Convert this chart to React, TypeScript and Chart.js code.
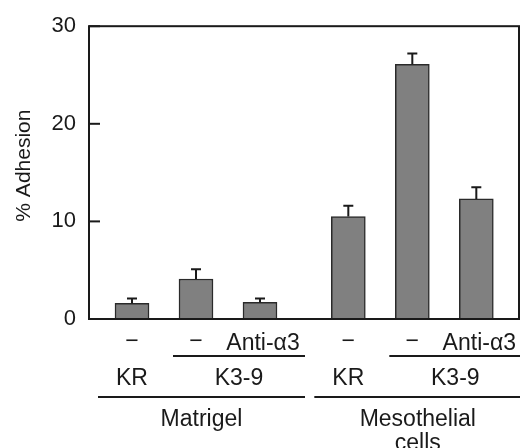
import React, { useEffect, useRef } from 'react';
import { Chart, registerables } from 'chart.js';

Chart.register(...registerables);

// ---- data ----
const conditions = ['−', '−', 'Anti-α3', '−', '−', 'Anti-α3'];
const adhesion = [1.6, 4.1, 1.7, 10.5, 26.1, 12.3];
const adhesionSE = [0.5, 1.0, 0.4, 1.1, 1.1, 1.2];
const barSlots = [1, 2, 3, 4.38, 5.38, 6.38];

const cellLineLabels = ['KR', 'K3-9', 'KR', 'K3-9'];
const cellLineStart = [0, 1, 3, 4];
const cellLineEnd = [0, 2, 3, 5];

const substrateLabels = [['Matrigel'], ['Mesothelial', 'cells']];
const substrateStart = [0, 3];
const substrateEnd = [2, 5];

const yTicks = [0, 10, 20, 30];
const yTitle = '% Adhesion';

const FONT = "'Liberation Sans', Arial, Helvetica, sans-serif";
const INK = '#1a1a1a';

const decorPlugin = {
  id: 'decor',
  afterDatasetsDraw(chart: any) {
    const { ctx, chartArea, scales } = chart;
    const x = scales.x;
    const y = scales.y;
    const meta = chart.getDatasetMeta(0);
    ctx.save();
    ctx.strokeStyle = INK;
    ctx.lineWidth = 2;
    // error bars
    meta.data.forEach((bar: any, i: number) => {
      const top = y.getPixelForValue(adhesion[i]);
      const e = y.getPixelForValue(adhesion[i] + adhesionSE[i]);
      ctx.beginPath();
      ctx.moveTo(bar.x, top);
      ctx.lineTo(bar.x, e);
      ctx.moveTo(bar.x - 5, e);
      ctx.lineTo(bar.x + 5, e);
      ctx.stroke();
    });
    // frame
    ctx.strokeRect(chartArea.left, chartArea.top, chartArea.right - chartArea.left, chartArea.bottom - chartArea.top);
    // inner ticks
    y.ticks.forEach((t: any) => {
      const py = y.getPixelForValue(t.value);
      ctx.beginPath();
      ctx.moveTo(chartArea.left, py);
      ctx.lineTo(chartArea.left + 11, py);
      ctx.stroke();
    });
    ctx.fillStyle = INK;
    ctx.textBaseline = 'alphabetic';
    // y title
    ctx.save();
    ctx.font = `21px ${FONT}`;
    ctx.textAlign = 'center';
    ctx.translate(30, (chartArea.top + chartArea.bottom) / 2 - 7);
    ctx.rotate(-Math.PI / 2);
    ctx.fillText(yTitle, 0, 0);
    ctx.restore();
    // category labels
    ctx.font = `23px ${FONT}`;
    ctx.textAlign = 'center';
    const px = (i: number) => x.getPixelForValue(barSlots[i]);
    conditions.forEach((c, i) => {
      ctx.fillText(c, px(i) + (c.length > 1 ? 3 : 0), c.length > 1 ? 350 : 348);
    });
    cellLineLabels.forEach((lab, g) => {
      const s = cellLineStart[g];
      const e = cellLineEnd[g];
      let cx = px(s);
      if (e > s) {
        const l = px(s) - 23;
        const r = px(e) + 45;
        ctx.beginPath();
        ctx.moveTo(l, 356);
        ctx.lineTo(r, 356);
        ctx.stroke();
        cx = (l + r) / 2;
      }
      ctx.fillText(lab, cx, 385);
    });
    substrateLabels.forEach((lines, g) => {
      const l = px(substrateStart[g]) - 34;
      const r = px(substrateEnd[g]) + 45;
      ctx.beginPath();
      ctx.moveTo(l, 397);
      ctx.lineTo(r, 397);
      ctx.stroke();
      const cx = (l + r) / 2;
      lines.forEach((t, k) => ctx.fillText(t, cx, 426 + k * 24));
    });
    ctx.restore();
  },
};

export default function App() {
  const ref = useRef<HTMLCanvasElement | null>(null);
  useEffect(() => {
    if (!ref.current) return;
    Chart.defaults.font.family = FONT;
    const chart = new Chart(ref.current, {
      type: 'bar',
      data: {
        datasets: [
          {
            data: adhesion.map((v, i) => ({ x: barSlots[i], y: v })),
            backgroundColor: '#808080',
            borderColor: '#2a2a2a',
            borderWidth: 1.5,
            barThickness: 34,
          },
        ],
      },
      options: {
        responsive: false,
        animation: false,
        devicePixelRatio: 1,
        layout: { padding: { top: 19, bottom: 129, right: 1, left: 0 } },
        plugins: { legend: { display: false }, tooltip: { enabled: false } },
        scales: {
          x: { type: 'linear', min: 0.328, max: 7.047, offset: false, display: false },
          y: {
            min: 0,
            max: 30,
            afterFit: (s: any) => {
              s.width = 89;
            },
            afterBuildTicks: (s: any) => {
              s.ticks = yTicks.map((v) => ({ value: v }));
            },
            grid: { display: false, drawTicks: false },
            border: { display: false },
            ticks: { padding: 13, color: INK, font: { size: 22, family: FONT } },
          },
        },
      },
      plugins: [decorPlugin],
    });
    return () => chart.destroy();
  }, []);
  return (
    <div style={{ position: 'fixed', left: 0, top: 0, width: 520, height: 448, background: '#fff' }}>
      <canvas ref={ref} width={520} height={448} />
    </div>
  );
}
